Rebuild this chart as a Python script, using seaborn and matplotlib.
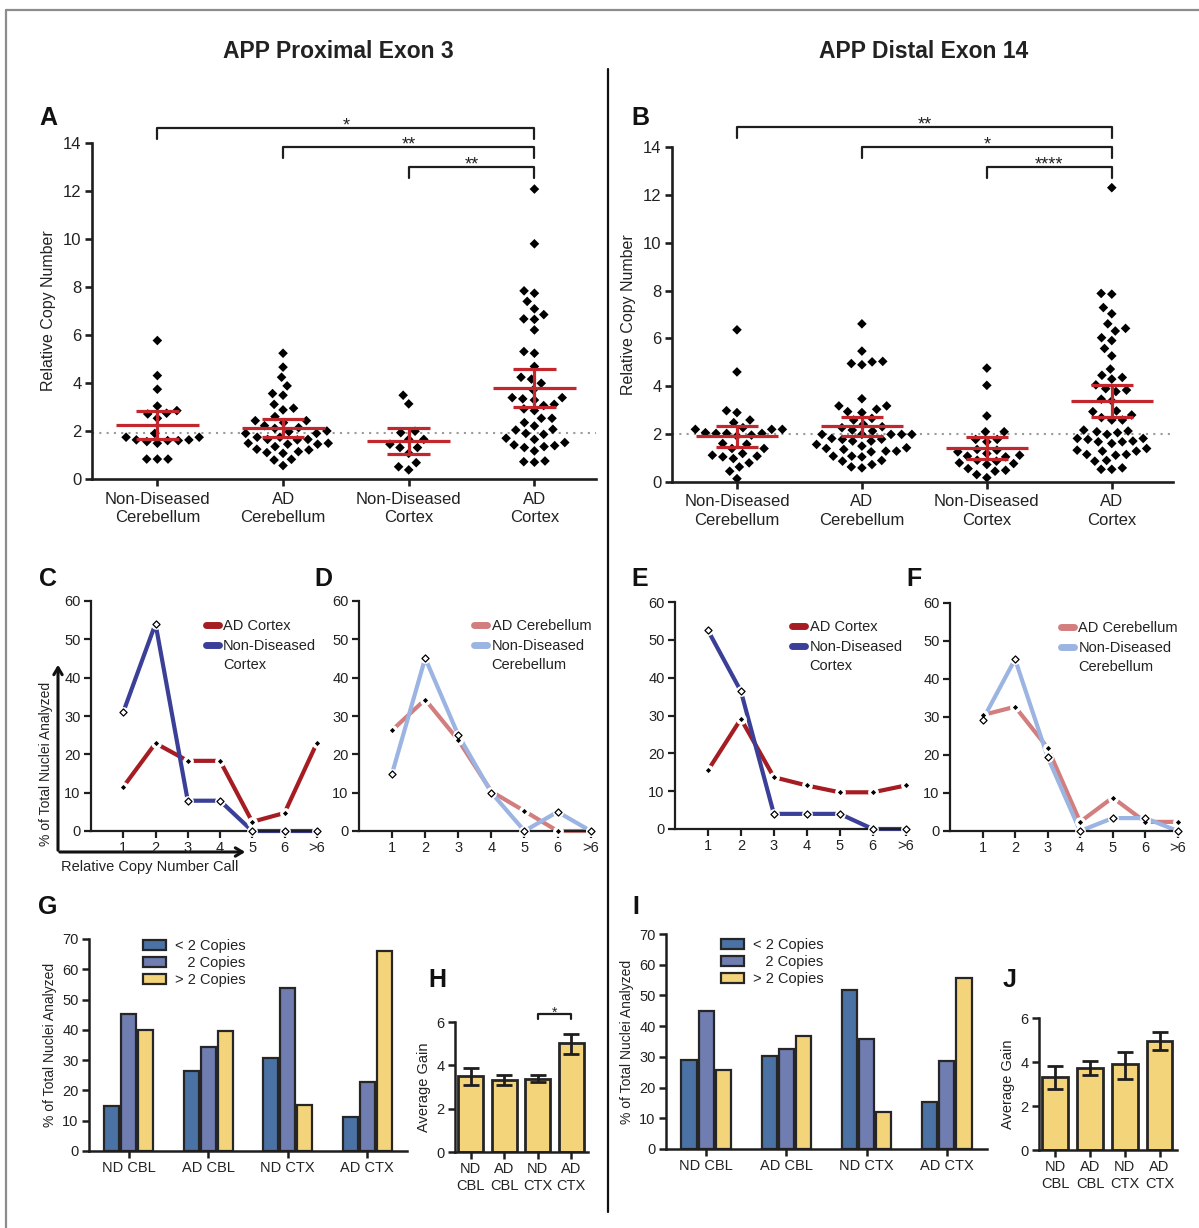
import numpy as np
import pandas as pd
import matplotlib
matplotlib.use("Agg")
import matplotlib.pyplot as plt
import seaborn as sns
from matplotlib.lines import Line2D

# ---------------- data ----------------
groups = ["Non-Diseased\nCerebellum", "AD\nCerebellum", "Non-Diseased\nCortex", "AD\nCortex"]

# A: APP proximal exon 3, relative copy number per nucleus
a_nd_cbl = [5.77, 4.31, 3.74, 3.04, 2.85, 2.71, 2.74, 2.53, 1.90, 1.74, 1.74, 1.63, 1.63, 1.56,
            1.49, 1.60, 1.60, 0.83, 0.83, 0.83]
a_ad_cbl = [5.24, 4.66, 4.24, 3.88, 3.49, 3.56, 3.11, 2.95, 2.88, 2.60, 2.43, 2.35, 2.43, 2.22,
            2.11, 2.14, 2.00, 1.97, 1.90, 1.90, 1.74, 1.74, 1.65, 1.63, 1.65, 1.49, 1.45, 1.45,
            1.35, 1.49, 1.21, 1.24, 1.10, 1.07, 1.14, 0.82, 0.79, 0.56]
a_nd_ctx = [3.49, 3.13, 1.99, 1.93, 1.65, 1.65, 1.45, 1.31, 1.31, 1.07, 0.68, 0.51, 0.38]
a_ad_ctx = [12.08, 9.80, 7.84, 7.74, 7.40, 7.09, 6.85, 6.67, 6.65, 6.21, 5.31, 5.24, 4.69, 4.24,
            4.16, 3.99, 3.71, 3.39, 3.34, 3.39, 3.29, 3.11, 3.06, 2.92, 2.85, 2.53, 2.53, 2.35,
            2.21, 2.07, 2.04, 1.90, 1.86, 1.70, 1.65, 1.52, 1.39, 1.42, 1.35, 1.31, 1.17, 0.75,
            0.70, 0.72]
a_mean = [2.25, 2.14, 1.58, 3.78]
a_lo = [1.65, 1.77, 1.03, 2.98]
a_hi = [2.85, 2.50, 2.14, 4.59]
a_sig = ["*", "**", "**"]

# B: APP distal exon 14
b_nd_cbl = [6.36, 4.60, 2.98, 2.90, 2.59, 2.48, 2.27, 2.20, 2.20, 2.20, 2.06, 2.03, 2.03, 2.03,
            1.92, 1.96, 1.61, 1.58, 1.40, 1.40, 1.19, 1.12, 1.08, 1.05, 0.98, 0.80, 0.63, 0.45, 0.14]
b_ad_cbl = [6.61, 5.47, 5.04, 4.95, 4.90, 5.02, 3.48, 3.18, 3.18, 3.04, 2.94, 2.90, 2.66, 2.59,
            2.41, 2.31, 2.27, 2.17, 2.13, 1.99, 1.99, 1.99, 1.99, 1.99, 1.82, 1.78, 1.79, 1.71,
            1.71, 1.57, 1.50, 1.43, 1.40, 1.36, 1.29, 1.29, 1.26, 1.08, 1.05, 1.08, 0.90, 0.87,
            0.73, 0.63, 0.59]
b_nd_ctx = [4.76, 4.04, 2.76, 2.10, 2.10, 1.78, 1.78, 1.68, 1.33, 1.36, 1.26, 1.19, 1.12, 1.08,
            1.05, 0.91, 0.87, 0.80, 0.77, 0.73, 0.56, 0.49, 0.45, 0.31, 0.18]
b_ad_ctx = [12.30, 7.88, 7.85, 7.29, 7.03, 6.61, 6.42, 6.31, 6.03, 5.91, 5.58, 5.27, 4.72, 4.46,
            4.37, 4.30, 4.06, 3.84, 3.90, 3.78, 3.46, 3.39, 2.94, 2.97, 2.80, 2.69, 2.59, 2.59,
            2.13, 2.06, 1.99, 2.10, 2.17, 1.82, 1.78, 1.68, 1.61, 1.68, 1.71, 1.82, 1.33, 1.29,
            1.40, 1.29, 1.15, 1.12, 1.15, 0.90, 0.87, 0.59, 0.53, 0.53]
b_mean = [1.92, 2.34, 1.43, 3.39]
b_lo = [1.47, 1.92, 0.98, 2.70]
b_hi = [2.35, 2.73, 1.88, 4.06]
b_sig = ["**", "*", "****"]

# C-F: % of nuclei per copy number call
call_labels = ["1", "2", "3", "4", "5", "6", ">6"]
c_ad_ctx = [11.5, 22.9, 18.3, 18.3, 2.4, 4.7, 22.9]
c_nd_ctx = [31.0, 54.1, 7.9, 7.9, 0.0, 0.0, 0.0]
d_ad_cbl = [26.3, 34.3, 23.7, 10.3, 5.2, 0.0, 0.0]
d_nd_cbl = [15.0, 45.1, 25.0, 10.0, 0.0, 5.0, 0.0]
e_ad_ctx = [15.5, 29.1, 13.7, 11.5, 9.7, 9.7, 11.5]
e_nd_ctx = [52.5, 36.4, 4.0, 4.0, 4.0, 0.0, 0.0]
f_ad_cbl = [30.5, 32.7, 21.9, 2.4, 8.8, 2.4, 2.4]
f_nd_cbl = [29.2, 45.2, 19.5, 0.0, 3.4, 3.4, 0.0]

# G-J: copy-number classes and average gain
tissues = ["ND CBL", "AD CBL", "ND CTX", "AD CTX"]
tissues_2l = ["ND\nCBL", "AD\nCBL", "ND\nCTX", "AD\nCTX"]
copy_classes = ["< 2 Copies", "   2 Copies", "> 2 Copies"]
g_lt2 = [14.8, 26.4, 30.8, 11.2]
g_eq2 = [45.1, 34.2, 53.9, 22.7]
g_gt2 = [39.9, 39.5, 15.3, 66.0]
h_gain = [3.52, 3.34, 3.38, 5.03]
h_lo = [3.10, 3.08, 3.22, 4.54]
h_hi = [3.90, 3.57, 3.54, 5.46]
i_lt2 = [28.9, 30.4, 51.8, 15.2]
i_eq2 = [44.9, 32.5, 35.8, 28.6]
i_gt2 = [25.7, 36.8, 11.9, 55.6]
j_gain = [3.30, 3.74, 3.89, 4.97]
j_lo = [2.78, 3.40, 3.25, 4.53]
j_hi = [3.81, 4.04, 4.44, 5.38]

# ---------------- style ----------------
sns.set_style("ticks")
plt.rcParams["font.family"] = ["Liberation Sans", "DejaVu Sans"]
plt.rcParams["text.color"] = "#222222"
plt.rcParams["axes.labelcolor"] = "#222222"
plt.rcParams["xtick.color"] = "#222222"
plt.rcParams["ytick.color"] = "#222222"

RED = "#c1272d"
INK = "#1e1e1e"
YELLOW = "#f4d47a"
W, H = 1199, 1228
fig = plt.figure(figsize=(W / 100, H / 100), dpi=100)


def px_axes(l, t, r, b):
    return fig.add_axes([l / W, 1 - b / H, (r - l) / W, (b - t) / H])


def style(ax, lw=1.6, fs=10):
    sns.despine(ax=ax)
    for s in ("left", "bottom"):
        ax.spines[s].set_linewidth(lw)
        ax.spines[s].set_color(INK)
    ax.tick_params(width=lw, length=5, labelsize=fs, color=INK, pad=2.5)
    ax.set_facecolor("none")


def bracket(ax, x1, x2, y, drop, txt, fs=13):
    ax.plot([x1, x1, x2, x2], [y - drop, y, y, y - drop], color=INK, lw=1.6, clip_on=False)
    ax.annotate(txt, xy=((x1 + x2) / 2, y), xytext=(0, -2), textcoords="offset points",
                ha="center", va="baseline", fontsize=fs, annotation_clip=False)


def dot_panel(ax, vals, mean, lo, hi, ref, sig, levels):
    df = pd.DataFrame({"group": np.repeat(groups, [len(v) for v in vals]),
                       "value": np.concatenate(vals)})
    ax.axhline(ref, color="#9a9a9a", ls=(0, (1, 2.5)), lw=1.5, zorder=0)
    # invisible wide edge keeps the swarm spacing looser than the marker itself
    sns.swarmplot(data=df, x="group", y="value", order=groups, marker="D", color="black",
                  size=4.9, linewidth=2.4, edgecolor="none", ax=ax, zorder=2)
    xs = np.arange(len(groups))
    ax.hlines(mean, xs - 0.33, xs + 0.33, color=RED, lw=2.3, zorder=3)
    ax.hlines(lo, xs - 0.17, xs + 0.17, color=RED, lw=2.3, zorder=3)
    ax.hlines(hi, xs - 0.17, xs + 0.17, color=RED, lw=2.3, zorder=3)
    ax.vlines(xs, lo, hi, color=RED, lw=2.3, zorder=3)
    ax.set_ylim(0, 14)
    ax.set_yticks(range(0, 15, 2))
    ax.set_xlim(-0.52, 3.49)
    ax.set_xlabel("")
    ax.set_ylabel("Relative Copy Number", fontsize=11.5, labelpad=5)
    style(ax, lw=1.9, fs=12)
    ax.tick_params(axis="x", pad=4)
    for t in ax.get_xticklabels():
        t.set_linespacing(1.3)
    for (a, b), lev, s in zip([(0, 3), (1, 3), (2, 3)], levels, sig):
        bracket(ax, a, b, lev, 0.45, s)


def line_panel(ax, ad, nd, ad_col, nd_col, ad_name, nd_name, leg_xy):
    xs = np.arange(1, len(call_labels) + 1)
    df = pd.DataFrame({"call": np.tile(xs, 2), "pct": ad + nd,
                       "series": [ad_name] * len(ad) + [nd_name] * len(nd)})
    sns.lineplot(data=df, x="call", y="pct", hue="series", palette=[ad_col, nd_col],
                 lw=3.0, legend=False, ax=ax, clip_on=False, zorder=2)
    sns.scatterplot(data=df, x="call", y="pct", color="white", s=60, linewidth=0,
                    legend=False, ax=ax, zorder=3, clip_on=False)
    sns.scatterplot(x=xs, y=ad, color="black", marker="D", s=7, linewidth=0, ax=ax,
                    zorder=4, clip_on=False)
    sns.scatterplot(x=xs, y=nd, color="white", marker="D", s=13, edgecolor="black",
                    linewidth=0.9, ax=ax, zorder=4, clip_on=False)
    ax.set_xlim(0, 7.1)
    ax.set_ylim(0, 60)
    ax.set_xticks(xs)
    ax.set_xticklabels(call_labels)
    ax.set_yticks(range(0, 61, 10))
    ax.set_xlabel("")
    ax.set_ylabel("")
    style(ax, lw=1.6, fs=10.5)
    first, second = nd_name.split("\n")
    handles = [Line2D([], [], color=ad_col, lw=5, solid_capstyle="round"),
               Line2D([], [], color=nd_col, lw=5, solid_capstyle="round"),
               Line2D([], [], color="none")]
    ax.legend(handles, [ad_name, first, second], loc="upper left", bbox_to_anchor=leg_xy,
              frameon=False, fontsize=10.5, handlelength=0.9, handletextpad=0.3,
              labelspacing=0.38, borderaxespad=0, borderpad=0)


def bar_panel(ax, lt2, eq2, gt2, leg_y):
    df = pd.DataFrame({"tissue": tissues * 3, "pct": lt2 + eq2 + gt2,
                       "copies": np.repeat(copy_classes, len(tissues))})
    sns.barplot(data=df, x="tissue", y="pct", hue="copies", order=tissues,
                palette=["#4a72a4", "#6f7db0", YELLOW], width=0.64, gap=0.12, saturation=1,
                edgecolor="#262626", linewidth=1.6, errorbar=None, ax=ax)
    ax.set_ylim(0, 70)
    ax.set_yticks(range(0, 71, 10))
    ax.set_xlim(-0.5, 3.5)
    ax.set_xlabel("")
    ax.set_ylabel("% of Total Nuclei Analyzed", fontsize=10)
    style(ax, lw=1.8, fs=10.5)
    h, l = ax.get_legend_handles_labels()
    ax.legend(h, l, loc="upper left", bbox_to_anchor=(0.17, leg_y), frameon=False,
              fontsize=10.5, handlelength=1.6, handleheight=0.65, handletextpad=0.6,
              labelspacing=0.2, borderaxespad=0, borderpad=0)


def gain_panel(ax, gain, lo, hi):
    sns.barplot(x=tissues_2l, y=gain, color=YELLOW, edgecolor="#262626", linewidth=2.0,
                width=0.74, saturation=1, errorbar=None, ax=ax)
    g = np.array(gain)
    ax.errorbar(np.arange(len(g)), g, yerr=[g - np.array(lo), np.array(hi) - g], fmt="none",
                ecolor="#1e1e1e", elinewidth=2, capsize=6, capthick=2, zorder=4)
    ax.set_ylim(0, 6)
    ax.set_yticks([0, 2, 4, 6])
    ax.set_xlim(-0.47, 3.5)
    ax.set_ylabel("Average Gain", fontsize=10.5)
    style(ax, lw=1.8, fs=10.5)


# ---------------- panels ----------------
axA = px_axes(92, 143, 596, 479)
dot_panel(axA, [a_nd_cbl, a_ad_cbl, a_nd_ctx, a_ad_ctx], a_mean, a_lo, a_hi, 1.93, a_sig,
          [14.63, 13.83, 13.0])
axB = px_axes(672, 147, 1173, 482)
dot_panel(axB, [b_nd_cbl, b_ad_cbl, b_nd_ctx, b_ad_ctx], b_mean, b_lo, b_hi, 2.0, b_sig,
          [14.83, 14.0, 13.17])

axC = px_axes(91, 601, 320, 831)
line_panel(axC, c_ad_ctx, c_nd_ctx, "#a51d22", "#3b3f98", "AD Cortex", "Non-Diseased\nCortex",
           (0.5, 0.92))
axC.set_ylabel("% of Total Nuclei Analyzed", fontsize=10)
axC.yaxis.set_label_coords(-0.165, 0.29)
axD = px_axes(359, 601, 594, 831)
line_panel(axD, d_ad_cbl, d_nd_cbl, "#d27e7e", "#9cb4e2", "AD Cerebellum",
           "Non-Diseased\nCerebellum", (0.49, 0.92))
axE = px_axes(675, 602, 909, 829)
line_panel(axE, e_ad_ctx, e_nd_ctx, "#a51d22", "#3b3f98", "AD Cortex", "Non-Diseased\nCortex",
           (0.5, 0.92))
axF = px_axes(950, 603, 1181, 831)
line_panel(axF, f_ad_cbl, f_nd_cbl, "#d27e7e", "#9cb4e2", "AD Cerebellum",
           "Non-Diseased\nCerebellum", (0.48, 0.92))

axG = px_axes(89, 939, 407, 1151)
bar_panel(axG, g_lt2, g_eq2, g_gt2, 1.0)
axH = px_axes(455, 1022, 588, 1152)
gain_panel(axH, h_gain, h_lo, h_hi)
bracket(axH, 2, 3, 6.37, 0.22, "*", fs=10)
axI = px_axes(666, 934, 987, 1149)
bar_panel(axI, i_lt2, i_eq2, i_gt2, 0.98)
axJ = px_axes(1039, 1018, 1177, 1150)
gain_panel(axJ, j_gain, j_lo, j_hi)

# ---------------- figure decorations (pixel overlay) ----------------
ov = fig.add_axes([0, 0, 1, 1], zorder=-1)
ov.set_xlim(0, W)
ov.set_ylim(H, 0)
ov.axis("off")
ov.plot([6, W], [10, 10], color="#8c8c8c", lw=1.6)
ov.plot([6, 6], [10, H], color="#8c8c8c", lw=1.6)
ov.plot([608, 608], [69, 1212], color="#111111", lw=1.6)
ov.text(338, 52, "APP Proximal Exon 3", fontsize=16.5, fontweight="bold", ha="center", va="center")
ov.text(924, 52, "APP Distal Exon 14", fontsize=16.5, fontweight="bold", ha="center", va="center")
for lab, x, y in [("A", 48, 118), ("B", 640, 118), ("C", 48, 579), ("D", 323, 579),
                  ("E", 640, 579), ("F", 914, 579), ("G", 48, 907), ("H", 437, 980),
                  ("I", 636, 907), ("J", 1010, 980)]:
    ov.text(x, y, lab, fontsize=18, fontweight="bold", ha="center", va="center", color="#111111")
# axis arrows under panel C
ov.annotate("", xy=(58, 662), xytext=(58, 853),
            arrowprops=dict(arrowstyle="->,head_length=0.5,head_width=0.3", lw=2.2, color="#111111"))
ov.annotate("", xy=(248, 852), xytext=(57, 852),
            arrowprops=dict(arrowstyle="->,head_length=0.5,head_width=0.3", lw=2.2, color="#111111"))
ov.text(61, 867, "Relative Copy Number Call", fontsize=10.5, ha="left", va="center")

fig.savefig("out.png", dpi=100)
